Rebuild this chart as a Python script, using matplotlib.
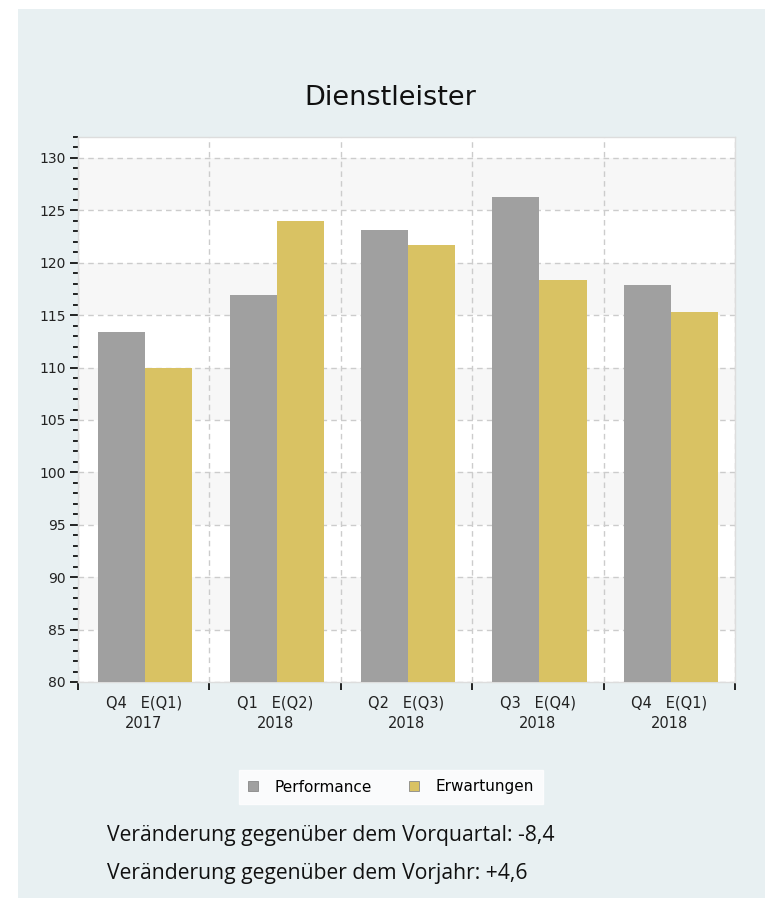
import numpy as np
import matplotlib
matplotlib.use("Agg")
import matplotlib.pyplot as plt
from matplotlib.patches import Rectangle, Patch

plt.rcParams["font.family"] = ["DejaVu Sans"]

# --- Données ---
quartale = ["Q4   E(Q1)\n2017", "Q1   E(Q2)\n2018", "Q2   E(Q3)\n2018",
            "Q3   E(Q4)\n2018", "Q4   E(Q1)\n2018"]
performance = [113.4, 116.9, 123.1, 126.3, 117.9]
erwartungen = [110.0, 124.0, 121.7, 118.4, 115.3]
serien = ["Performance", "Erwartungen"]
farben = ["#a0a0a0", "#d9c263"]

W, H = 765, 898
fig = plt.figure(figsize=(W / 100, H / 100), dpi=100)
fig.patch.set_facecolor("white")

# panneau de fond bleu clair
fig.patches.append(Rectangle((18 / W, 0), (W - 18) / W, (H - 9) / H,
                             transform=fig.transFigure, facecolor="#e8f0f2",
                             edgecolor="none", zorder=-1))

# zone de tracé (coordonnées en pixels -> fractions)
left, right, top, bottom = 78, 735, 137, 682
ax = fig.add_axes([left / W, (H - bottom) / H, (right - left) / W, (bottom - top) / H])
ax.set_zorder(1)
ax.set_facecolor("white")

x = np.arange(len(quartale))
breite = 0.358
decalage = 0.012  # groupe légèrement à droite du centre
ax.bar(x + decalage - breite / 2, performance, breite, color=farben[0], zorder=3)
ax.bar(x + decalage + breite / 2, erwartungen, breite, color=farben[1], zorder=3)

ax.set_ylim(80, 132)
ax.set_xlim(-0.5, len(quartale) - 0.5)

# bandes alternées
for y0 in range(85, 131, 10):
    ax.axhspan(y0, y0 + 5, color="#f7f7f7", zorder=0, lw=0)

ax.set_yticks(np.arange(80, 131, 5))
ax.set_yticks(np.arange(80, 133, 1), minor=True)
ax.yaxis.grid(True, which="major", ls=(0, (4, 3)), color="#cccccc", lw=1, zorder=1)

# ticks x : majeurs aux frontières, mineurs (labels) au centre
ax.set_xticks(np.arange(-0.5, len(quartale), 1))
ax.set_xticklabels([])
ax.set_xticks(x, minor=True)
ax.set_xticklabels(quartale, minor=True, fontsize=10.5, color="#222222", linespacing=1.45)
ax.xaxis.grid(True, which="major", ls=(0, (4, 3)), color="#cccccc", lw=1, zorder=1)
ax.tick_params(axis="x", which="minor", length=0, pad=10)
ax.tick_params(axis="x", which="major", length=6, width=1.2, color="black", direction="out")
ax.tick_params(axis="y", which="major", length=6, width=1.2, labelsize=10, pad=3,
               labelcolor="#222222")
ax.tick_params(axis="y", which="minor", length=3.5, width=1.2)

for s in ax.spines.values():
    s.set_color("#dddddd")
    s.set_linewidth(1)

fig.text(390 / W, 1 - 98 / H, "Dienstleister", ha="center", va="center",
         fontsize=19.5, color="#111111")

handles = [Patch(facecolor=c, edgecolor="#888888", lw=0.6) for c in farben]
leg = fig.legend(handles, serien, loc="center", bbox_to_anchor=(391 / W, 1 - 787 / H),
                 ncol=2, frameon=True, fancybox=False, fontsize=11,
                 handlelength=0.65, handleheight=0.65, columnspacing=2.4,
                 handletextpad=1.1, borderpad=0.6)
leg.get_frame().set_facecolor("white")
leg.get_frame().set_edgecolor("white")

fig.text(107 / W, 1 - 836 / H, "Veränderung gegenüber dem Vorquartal: -8,4",
         ha="left", va="center", fontsize=15.2, family="Open Sans", color="#111111")
fig.text(107 / W, 1 - 873 / H, "Veränderung gegenüber dem Vorjahr: +4,6",
         ha="left", va="center", fontsize=15.2, family="Open Sans", color="#111111")

fig.savefig("out.png", dpi=100)
